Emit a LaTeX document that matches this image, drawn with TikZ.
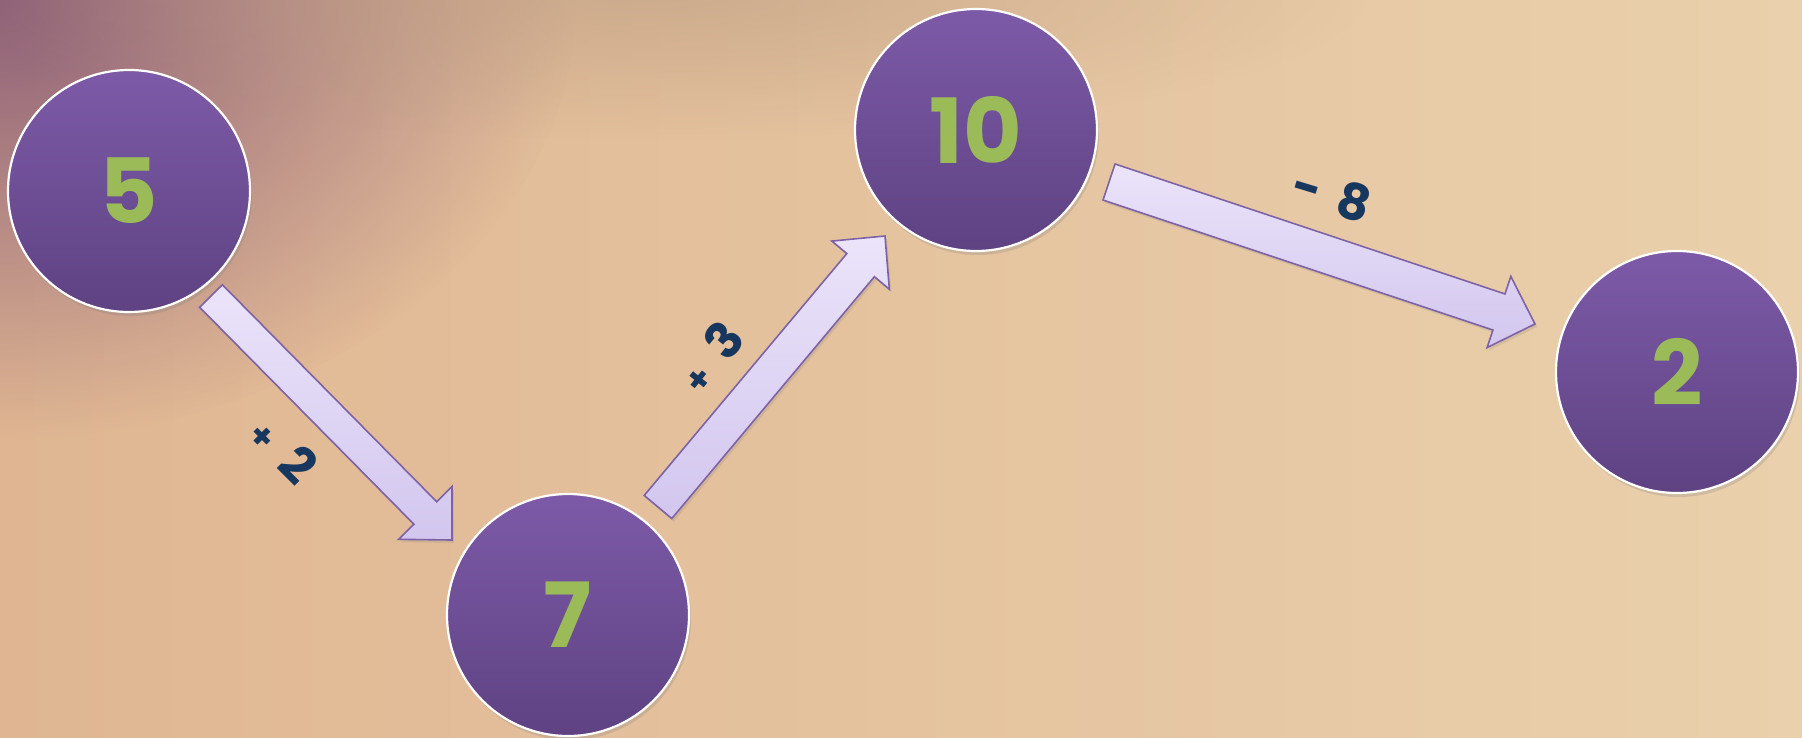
\documentclass[tikz,border=0pt]{standalone}
\usepackage{fontspec}
\setmainfont{Poppins}
\usetikzlibrary{calc,shadows,fadings}

\definecolor{bgpeach}{HTML}{E0B692}
\definecolor{bgcream}{HTML}{EAD0AC}
\definecolor{bgmauve}{HTML}{8E6078}
\definecolor{bgdusk}{HTML}{B89A80}
\definecolor{ballTop}{HTML}{7D5AA8}
\definecolor{ballBot}{HTML}{5E4282}
\definecolor{digitgreen}{HTML}{9BBB59}
\definecolor{opnavy}{HTML}{17375E}
\definecolor{lavlight}{HTML}{EBE4FA}
\definecolor{lavdark}{HTML}{D2C6EE}
\definecolor{lavedge}{HTML}{7D62A6}
\tikzfading[name=glow, inner color=transparent!0, outer color=transparent!100]

\begin{document}
\begin{tikzpicture}
  [x=1pt,y=-1pt,
   ball/.style={circle,minimum size=242,inner sep=0,draw=white,line width=2.2,
     top color=ballTop,bottom color=ballBot,text=digitgreen,
     font=\fontsize{90}{90}\selectfont\bfseries,
     drop shadow={opacity=.25,shadow xshift=2pt,shadow yshift=-4pt}},
   op/.style={text=opnavy,font=\fontsize{50}{50}\selectfont\bfseries,inner sep=0},
   blockarrow/.style={draw=lavedge,line width=1.6,line join=miter,
     top color=lavlight,bottom color=lavdark,
     drop shadow={opacity=.2,shadow xshift=2pt,shadow yshift=-3pt}}]

  \useasboundingbox (0,0) rectangle (1802,737);
  \shade[left color=bgpeach,right color=bgcream] (0,0) rectangle (1802,737);
  \fill[bgmauve,path fading=glow] (0,0) ellipse (580 and 440);
  \fill[bgdusk,opacity=.55,path fading=glow] (650,-10) ellipse (720 and 150);

  \node[ball] (n5)  at (129,191)  {5};
  \node[ball] (n7)  at (568,615)  {7};
  \node[ball] (n10) at (976,130)  {10};
  \node[ball] (n2)  at (1677,372) {2};

  \coordinate (t1) at (211,296);  \coordinate (h1) at (452,540);
  \coordinate (t2) at (658,507);  \coordinate (h2) at (885,236);
  \coordinate (t3) at (1109,182); \coordinate (h3) at (1535,324);

  \foreach \from/\to/\w in {t1/h1/16pt,t2/h2/18pt,t3/h3/19pt}
  {
    \coordinate (neck) at ($(\to)!38pt!(\from)$);
    \draw[blockarrow] ($(\from)!\w!90:(\to)$) -- ($(neck)!\w!90:(\to)$)
      -- ($(neck)!37.5pt!90:(\to)$) -- (\to) -- ($(neck)!37.5pt!-90:(\to)$)
      -- ($(neck)!\w!-90:(\to)$) -- ($(\from)!\w!-90:(\to)$) -- cycle;
  }

  \node[op,rotate=-45] (op1) at (284,449)  {{\fontsize{36}{36}\selectfont+}\hspace{20pt}2};
  \node[op,rotate=51]  (op2) at (710,357)  {{\fontsize{36}{36}\selectfont+}\hspace{20pt}3};
  \node[op,rotate=-17] (op3) at (1332,195) {-\hspace{18pt}8};

\end{tikzpicture}
\end{document}
